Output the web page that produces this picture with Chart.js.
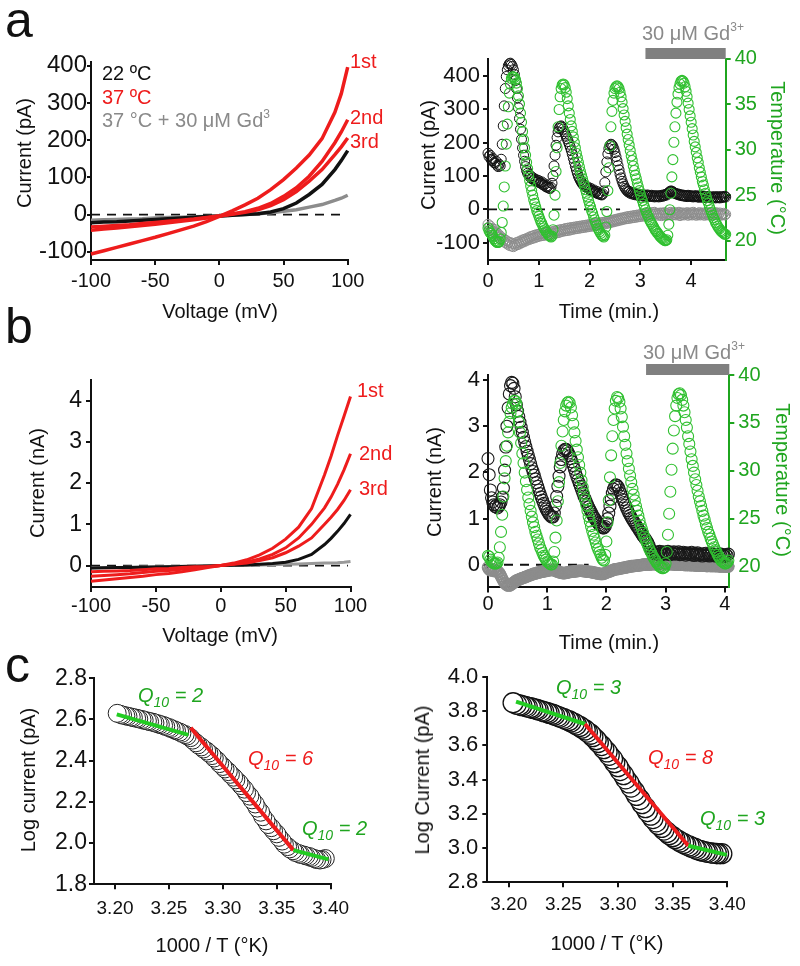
<!DOCTYPE html>
<html><head><meta charset="utf-8">
<script src="https://cdn.jsdelivr.net/npm/chart.js@4.4.1/dist/chart.umd.min.js"></script>
<style>
html,body{margin:0;padding:0;background:#fff;}
#page{position:relative;width:800px;height:966px;overflow:hidden;font-family:"Liberation Sans",Arial,Helvetica,sans-serif;background:#fff;}
canvas{position:absolute;left:0;top:0;}
.t{position:absolute;white-space:nowrap;font-size:20px;line-height:1;color:#111;}
.rl{transform:translate(-50%,-50%) rotate(-90deg);}
.rr{transform:translate(-50%,-50%) rotate(90deg);}
.cc{transform:translate(-50%,-50%);}
.lc{transform:translate(0,-50%);}
.big{font-size:50px;}
sup{font-size:12px;vertical-align:baseline;position:relative;top:-9px;}
.q{font-size:20px;font-style:italic;}
.q sub{font-size:14px;vertical-align:baseline;position:relative;top:5px;}
.red{color:#ee1c1c;} .grn{color:#1fa51f;} .gry{color:#8a8a8a;}
</style></head><body><div id="page">
<canvas id="cA1" width="800" height="966"></canvas>
<canvas id="cA2" width="800" height="966"></canvas>
<canvas id="cB1" width="800" height="966"></canvas>
<canvas id="cB2" width="800" height="966"></canvas>
<canvas id="cC1" width="800" height="966"></canvas>
<canvas id="cC2" width="800" height="966"></canvas>

<div class="t big" style="left:5px;top:-5px;">a</div>
<div class="t big" style="left:5px;top:301px;">b</div>
<div class="t big" style="left:5px;top:640px;">c</div>

<!-- panel a left -->
<div class="t rl" style="left:24px;top:153px;">Current (pA)</div>
<div class="t cc" style="left:220px;top:311px;">Voltage (mV)</div>
<div class="t lc" style="left:102px;top:73px;">22 ºC</div>
<div class="t lc red" style="left:102px;top:97px;">37 ºC</div>
<div class="t lc gry" style="left:102px;top:120px;">37 °C + 30 μM Gd<sup>3</sup></div>
<div class="t lc red" style="left:350px;top:61px;">1st</div>
<div class="t lc red" style="left:350px;top:117px;">2nd</div>
<div class="t lc red" style="left:350px;top:141px;">3rd</div>

<!-- panel a right -->
<div class="t rl" style="left:428px;top:155px;">Current (pA)</div>
<div class="t rr grn" style="left:778px;top:158px;">Temperature (°C)</div>
<div class="t cc" style="left:609px;top:311px;">Time (min.)</div>
<div class="t lc gry" style="left:642px;top:33px;">30 μM Gd<sup>3+</sup></div>

<!-- panel b left -->
<div class="t rl" style="left:37px;top:483px;">Current (nA)</div>
<div class="t cc" style="left:220px;top:635px;">Voltage (mV)</div>
<div class="t lc red" style="left:357px;top:390px;">1st</div>
<div class="t lc red" style="left:359px;top:453px;">2nd</div>
<div class="t lc red" style="left:359px;top:488px;">3rd</div>

<!-- panel b right -->
<div class="t rl" style="left:434px;top:482px;">Current (nA)</div>
<div class="t rr grn" style="left:783px;top:480px;">Temperature (°C)</div>
<div class="t cc" style="left:609px;top:642px;">Time (min.)</div>
<div class="t lc gry" style="left:643px;top:352px;">30 μM Gd<sup>3+</sup></div>

<!-- panel c -->
<div class="t rl" style="left:28px;top:780px;">Log current (pA)</div>
<div class="t cc" style="left:212px;top:945px;">1000 / T (°K)</div>
<div class="t rl" style="left:422px;top:780px;">Log Current (pA)</div>
<div class="t cc" style="left:607px;top:943px;">1000 / T (°K)</div>
<div class="t lc q grn" style="left:138px;top:695px;">Q<sub>10</sub> = 2</div>
<div class="t lc q red" style="left:248px;top:758px;">Q<sub>10</sub> = 6</div>
<div class="t lc q grn" style="left:302px;top:828px;">Q<sub>10</sub> = 2</div>
<div class="t lc q grn" style="left:556px;top:687px;">Q<sub>10</sub> = 3</div>
<div class="t lc q red" style="left:648px;top:757px;">Q<sub>10</sub> = 8</div>
<div class="t lc q grn" style="left:700px;top:818px;">Q<sub>10</sub> = 3</div>
</div>
<script>
// ---------------- DATA ----------------
// Panel a, left: I-V curves (pA)
const aIvVoltage = [-100,-90,-80,-70,-60,-50,-40,-30,-20,-10,0,10,20,30,40,50,60,70,80,90,95,100];
const aIv1st = [-106,-97,-88,-79,-70,-61,-51,-41,-31,-19,-5,10,26,44,67,94,125,160,204,275,325,396];
const aIv2nd = [-33,-31,-29,-27,-24,-21,-18,-15,-12,-8,-4,2,8,17,30,49,72,103,143,193,222,255];
const aIv3rd = [-42,-39,-36,-33,-29,-26,-22,-18,-14,-9,-4,1,6,13,24,40,62,90,121,161,182,206];
const aIv22C = [-22,-20,-19,-17,-15,-13,-11,-9,-7,-5,-4,-2,0,2,7,16,31,54,81,121,145,172];
const aIvGd  = [-15,-14,-13,-12,-11,-9,-8,-7,-6,-5,-4,-2,0,2,5,9,13,20,27,38,44,52];

// Panel b, left: I-V curves (nA)
const bIvVoltage = [-100,-90,-80,-70,-60,-50,-40,-30,-20,-10,0,10,20,30,40,50,60,70,80,85,90,95,100];
const bIv1st = [-0.38,-0.35,-0.32,-0.29,-0.26,-0.22,-0.19,-0.15,-0.10,-0.05,0,0.06,0.14,0.26,0.42,0.64,0.93,1.38,2.2,2.65,3.15,3.62,4.1];
const bIv2nd = [-0.26,-0.24,-0.22,-0.20,-0.17,-0.14,-0.12,-0.09,-0.06,-0.03,0,0.04,0.09,0.16,0.27,0.43,0.67,1.0,1.4,1.66,1.97,2.32,2.71];
const bIv3rd = [-0.15,-0.14,-0.13,-0.12,-0.10,-0.08,-0.07,-0.05,-0.03,-0.02,0,0.03,0.06,0.12,0.19,0.31,0.47,0.67,1.0,1.17,1.36,1.58,1.84];
const bIv22C = [-0.06,-0.055,-0.05,-0.045,-0.04,-0.035,-0.03,-0.02,-0.015,-0.01,0,0.005,0.015,0.03,0.05,0.08,0.15,0.27,0.51,0.66,0.83,1.02,1.24];
const bIvGd  = [-0.06,-0.054,-0.048,-0.042,-0.036,-0.03,-0.024,-0.018,-0.012,-0.006,0,0.005,0.01,0.015,0.02,0.03,0.04,0.05,0.06,0.065,0.07,0.08,0.1];

// Panel a, right: time course, sampled every aTimeStep minutes
const aTimeStep = 0.02;
const aCurrent = [
168,158,162,150,146,152,140,138,144,132,
128,135,130,150,195,250,310,362,398,418,
430,436,438,434,428,418,404,386,362,334,
304,272,240,210,184,162,144,128,116,108,
103,98,100,92,95,88,91,85,88,82,
86,80,78,82,74,72,76,68,66,70,
64,62,66,78,100,130,162,192,215,232,
242,248,250,246,240,233,226,219,211,203,
195,186,176,165,153,141,129,118,108,99,
92,86,81,76,73,70,68,65,67,62,
60,63,57,55,58,52,50,54,47,46,
49,44,43,46,55,80,112,142,166,182,
191,195,193,188,180,170,158,145,131,118,
105,94,84,76,69,63,59,55,52,54,
48,50,46,49,44,47,43,46,42,45,
41,44,40,43,39,42,40,43,38,41,
39,42,38,41,37,40,38,41,37,40,
38,42,39,43,41,45,43,47,50,53,
55,54,52,50,48,47,45,46,43,44,
41,43,40,42,39,41,38,42,39,41,
38,40,37,40,38,41,37,39,36,40,
37,39,36,38,35,38,36,39,35,37,
34,37,35,38,34,37,35,38,34,37,
35,38,36,39,37];
const aCurrentGd = [
-45,-55,-50,-62,-58,-66,-60,-72,-68,-78,
-74,-84,-80,-90,-86,-95,-90,-100,-94,-104,
-98,-108,-100,-110,-102,-112,-104,-108,-100,-106,
-98,-104,-95,-100,-92,-98,-90,-95,-88,-92,
-85,-90,-82,-88,-80,-86,-78,-84,-76,-82,
-75,-80,-73,-79,-72,-78,-71,-77,-70,-76,
-69,-75,-68,-74,-67,-72,-65,-71,-64,-70,
-62,-68,-61,-66,-60,-65,-58,-64,-57,-63,
-56,-62,-55,-60,-54,-59,-53,-58,-52,-57,
-51,-56,-50,-55,-49,-54,-48,-53,-47,-52,
-46,-51,-45,-50,-44,-49,-43,-48,-42,-47,
-41,-46,-40,-45,-39,-44,-38,-42,-36,-41,
-35,-39,-33,-38,-32,-36,-30,-35,-29,-33,
-27,-32,-26,-30,-25,-29,-23,-28,-22,-27,
-21,-26,-20,-25,-19,-24,-18,-23,-17,-22,
-16,-21,-15,-20,-14,-19,-13,-18,-12,-17,
-11,-16,-10,-15,-9,-14,-13,-18,-12,-17,
-11,-19,-12,-16,-10,-18,-13,-17,-11,-15,
-9,-18,-12,-16,-10,-17,-13,-15,-9,-19,
-12,-16,-11,-17,-13,-14,-10,-18,-12,-16,
-11,-17,-9,-15,-12,-18,-13,-16,-10,-17,
-12,-15,-11,-18,-13,-16,-10,-17,-12,-14,
-11,-18,-13,-16,-10,-17,-12,-15,-11,-18,
-14,-16,-12,-17,-15];
const aTemp = [
21.4,21.1,20.9,20.8,20.6,20.4,20.2,20.0,19.9,19.8,
19.8,19.9,20.2,20.9,22.0,23.8,25.9,28.2,30.6,32.8,
34.7,36.2,37.2,37.8,38.0,38.0,37.9,37.7,37.3,36.7,
35.9,35.0,34.0,33.0,32.0,31.1,30.2,29.4,28.6,27.9,
27.2,26.6,26.0,25.5,25.0,24.5,24.1,23.7,23.3,23.0,
22.7,22.4,22.1,21.9,21.6,21.4,21.2,21.0,20.9,20.7,
20.6,20.5,20.4,20.5,21.2,22.8,25.0,27.6,30.2,32.5,
34.4,35.8,36.7,37.1,37.2,37.1,36.8,36.3,35.6,34.8,
34.0,33.3,32.6,32.0,31.4,30.8,30.2,29.6,29.1,28.6,
28.1,27.6,27.2,26.8,26.4,26.0,25.6,25.2,24.8,24.4,
24.0,23.7,23.3,23.0,22.6,22.3,22.0,21.7,21.4,21.2,
21.0,20.8,20.6,20.5,20.4,20.6,21.5,23.2,25.5,28.0,
30.4,32.5,34.2,35.4,36.2,36.7,36.9,37.0,36.9,36.7,
36.3,35.8,35.2,34.5,33.8,33.1,32.4,31.7,31.1,30.5,
29.9,29.3,28.8,28.2,27.7,27.2,26.8,26.3,25.9,25.5,
25.1,24.7,24.4,24.0,23.7,23.4,23.1,22.8,22.6,22.3,
22.1,21.9,21.7,21.5,21.3,21.1,21.0,20.8,20.7,20.5,
20.4,20.3,20.2,20.1,20.0,20.0,20.1,20.6,21.8,23.4,
25.2,27.0,28.9,30.8,32.5,34.0,35.2,36.1,36.8,37.2,
37.5,37.6,37.5,37.3,36.9,36.4,35.8,35.1,34.4,33.7,
33.0,32.3,31.6,30.9,30.3,29.7,29.1,28.6,28.0,27.5,
27.0,26.5,26.1,25.6,25.2,24.8,24.4,24.1,23.7,23.4,
23.1,22.8,22.5,22.3,22.0,21.8,21.6,21.4,21.3,21.1,
21.0,20.9,20.8,20.7,20.7];
const aZeroLineT = [0, 2.6];
const aGdBarT = [3.1, 4.68];

// Panel b, right
const bTimeStep = 0.02;
const bCurrent = [
2.30,1.95,1.62,1.45,1.36,1.30,1.26,1.29,1.23,1.27,
1.30,1.36,1.46,1.66,2.05,2.55,3.00,3.40,3.70,3.88,
3.95,3.93,3.82,3.64,3.47,3.33,3.21,3.09,2.98,2.87,
2.76,2.66,2.56,2.46,2.37,2.28,2.19,2.10,2.02,1.94,
1.86,1.78,1.70,1.62,1.54,1.47,1.40,1.33,1.27,1.21,
1.16,1.12,1.08,1.05,1.03,1.04,1.12,1.28,1.48,1.70,
1.92,2.12,2.28,2.40,2.47,2.50,2.50,2.47,2.42,2.36,
2.30,2.23,2.15,2.07,1.99,1.91,1.84,1.77,1.70,1.63,
1.56,1.49,1.43,1.37,1.31,1.25,1.20,1.15,1.10,1.05,
1.01,0.97,0.93,0.90,0.87,0.84,0.82,0.80,0.80,0.83,
0.90,1.00,1.12,1.27,1.42,1.55,1.64,1.70,1.73,1.72,
1.68,1.62,1.55,1.48,1.41,1.35,1.29,1.23,1.17,1.12,
1.07,1.02,0.98,0.94,0.90,0.86,0.82,0.78,0.74,0.70,
0.66,0.62,0.59,0.56,0.52,0.48,0.42,0.35,0.29,0.26,
0.25,0.28,0.23,0.27,0.24,0.29,0.25,0.22,0.28,0.24,
0.27,0.23,0.29,0.25,0.22,0.27,0.24,0.28,0.23,0.26,
0.24,0.28,0.22,0.26,0.23,0.27,0.25,0.21,0.26,0.23,
0.25,0.22,0.27,0.23,0.20,0.25,0.22,0.26,0.21,0.24,
0.22,0.19,0.24,0.21,0.25,0.20,0.23,0.19,0.22,0.24,
0.20,0.23,0.19,0.22,0.18,0.21,0.24,0.19,0.22,0.20,
0.18,0.22,0.20,0.23];
const bCurrentGd = [
-0.06,-0.10,-0.12,-0.10,-0.13,-0.11,-0.14,-0.12,-0.15,-0.16,
-0.20,-0.25,-0.30,-0.35,-0.39,-0.42,-0.44,-0.45,-0.45,-0.44,
-0.42,-0.40,-0.38,-0.36,-0.34,-0.33,-0.32,-0.31,-0.30,-0.29,
-0.28,-0.27,-0.26,-0.25,-0.24,-0.23,-0.22,-0.21,-0.20,-0.19,
-0.19,-0.18,-0.17,-0.17,-0.16,-0.15,-0.15,-0.14,-0.14,-0.13,
-0.13,-0.12,-0.12,-0.11,-0.11,-0.11,-0.12,-0.13,-0.14,-0.15,
-0.16,-0.17,-0.17,-0.18,-0.18,-0.18,-0.17,-0.17,-0.16,-0.16,
-0.15,-0.15,-0.15,-0.14,-0.14,-0.14,-0.13,-0.13,-0.13,-0.13,
-0.13,-0.14,-0.14,-0.14,-0.15,-0.15,-0.15,-0.16,-0.16,-0.17,
-0.17,-0.18,-0.18,-0.19,-0.19,-0.20,-0.20,-0.20,-0.19,-0.18,
-0.17,-0.16,-0.15,-0.14,-0.13,-0.12,-0.11,-0.10,-0.10,-0.09,
-0.09,-0.08,-0.08,-0.07,-0.07,-0.06,-0.06,-0.05,-0.05,-0.04,
-0.04,-0.03,-0.03,-0.03,-0.02,-0.02,-0.02,-0.01,-0.01,-0.01,
0.00,0.00,0.01,0.00,0.01,0.01,0.00,0.01,0.02,0.01,
0.01,0.02,0.01,0.02,0.02,0.01,0.02,0.02,0.01,0.02,
0.02,0.01,0.02,0.01,0.01,0.02,0.01,0.01,0.00,0.01,
0.01,0.00,0.01,0.00,0.00,0.01,0.00,-0.01,0.00,0.00,
-0.01,0.00,-0.01,-0.01,0.00,-0.01,-0.02,-0.01,-0.01,-0.02,
-0.01,-0.02,-0.02,-0.01,-0.02,-0.03,-0.02,-0.02,-0.03,-0.02,
-0.03,-0.02,-0.03,-0.03,-0.02,-0.03,-0.04,-0.03,-0.03,-0.04,
-0.03,-0.04,-0.03,-0.04];
const bTemp = [
21.1,21.0,20.7,20.5,20.4,20.3,20.3,20.3,20.4,20.9,
22.0,23.6,25.4,27.3,29.2,31.0,32.6,34.0,35.1,36.0,
36.6,37.0,37.3,37.3,37.0,36.2,35.1,34.0,32.9,31.8,
30.8,29.8,28.9,28.0,27.2,26.5,25.8,25.2,24.6,24.1,
23.6,23.2,22.8,22.4,22.0,21.7,21.4,21.1,20.9,20.7,
20.5,20.4,20.3,20.2,20.2,20.5,21.5,23.0,24.8,26.8,
28.8,30.8,32.6,34.1,35.3,36.2,36.8,37.1,37.2,37.1,
36.6,35.8,34.9,34.0,33.1,32.2,31.4,30.6,29.8,29.0,
28.3,27.6,27.0,26.4,25.8,25.2,24.7,24.2,23.7,23.3,
22.9,22.5,22.1,21.8,21.5,21.2,20.9,20.7,20.6,21.2,
22.6,24.6,26.9,29.3,31.6,33.6,35.3,36.5,37.3,37.7,
37.6,37.2,36.5,35.6,34.6,33.6,32.7,31.8,31.0,30.2,
29.5,28.8,28.1,27.5,26.9,26.3,25.8,25.3,24.8,24.3,
23.9,23.5,23.1,22.8,22.5,22.2,21.9,21.6,21.4,21.1,
20.9,20.7,20.5,20.3,20.2,20.0,19.9,19.8,19.8,19.9,
20.3,21.5,23.3,25.5,27.8,30.1,32.3,34.2,35.7,36.8,
37.6,38.0,38.1,37.9,37.4,36.8,36.1,35.3,34.5,33.6,
32.8,32.0,31.2,30.5,29.8,29.1,28.5,27.9,27.3,26.8,
26.3,25.8,25.3,24.9,24.4,24.0,23.6,23.3,22.9,22.6,
22.3,22.0,21.7,21.5,21.2,21.0,20.8,20.6,20.5,20.4,
20.3,20.3,20.4,20.6];
const bZeroLineT = [0, 1.7];
const bGdBarT = [2.67, 4.076];

// Panel c: Arrhenius plots (1000/T, log current), ordered from cold to warm
const cLeftInvT = [3.395,3.392,3.390,3.387,3.385,3.382,3.380,3.377,3.375,3.372,3.370,3.367,3.365,3.362,3.360,3.357,3.355,3.352,3.350,3.347,3.345,3.342,3.340,3.337,3.335,3.332,3.330,3.327,3.325,3.322,3.320,3.317,3.315,3.312,3.310,3.307,3.305,3.302,3.300,3.297,3.295,3.292,3.290,3.287,3.285,3.282,3.280,3.277,3.275,3.272,3.270,3.267,3.265,3.262,3.260,3.257,3.255,3.252,3.250,3.247,3.245,3.242,3.240,3.237,3.235,3.232,3.230,3.227,3.225,3.222,3.220,3.217,3.215,3.212,3.210,3.207,3.205,3.202];
const cLeftLogI = [1.925,1.920,1.918,1.920,1.925,1.930,1.935,1.938,1.942,1.945,1.950,1.955,1.963,1.972,1.983,1.995,2.010,2.028,2.045,2.060,2.075,2.090,2.108,2.128,2.150,2.170,2.190,2.210,2.228,2.245,2.262,2.279,2.293,2.307,2.320,2.334,2.347,2.360,2.372,2.386,2.400,2.413,2.425,2.437,2.447,2.457,2.467,2.477,2.487,2.500,2.512,2.520,2.527,2.533,2.539,2.545,2.550,2.556,2.561,2.566,2.571,2.575,2.579,2.583,2.587,2.590,2.593,2.596,2.600,2.603,2.606,2.609,2.612,2.615,2.618,2.621,2.625,2.630];
const cRightInvT = [3.395,3.392,3.390,3.387,3.385,3.382,3.380,3.377,3.375,3.372,3.370,3.367,3.365,3.362,3.360,3.357,3.355,3.352,3.350,3.347,3.345,3.342,3.340,3.337,3.335,3.332,3.330,3.327,3.325,3.322,3.320,3.317,3.315,3.312,3.310,3.307,3.305,3.302,3.300,3.297,3.295,3.292,3.290,3.287,3.285,3.282,3.280,3.277,3.275,3.272,3.270,3.267,3.265,3.262,3.260,3.257,3.255,3.252,3.250,3.247,3.245,3.242,3.240,3.237,3.235,3.232,3.230,3.227,3.225,3.222,3.220,3.217,3.215,3.212,3.210,3.207,3.204];
const cRightLogI = [2.967,2.967,2.968,2.970,2.972,2.975,2.978,2.982,2.986,2.991,2.999,3.005,3.012,3.019,3.027,3.036,3.045,3.055,3.066,3.078,3.091,3.105,3.120,3.136,3.153,3.172,3.192,3.213,3.236,3.259,3.283,3.307,3.331,3.356,3.380,3.404,3.428,3.452,3.475,3.498,3.520,3.541,3.561,3.580,3.598,3.616,3.632,3.650,3.664,3.677,3.689,3.700,3.710,3.719,3.728,3.736,3.743,3.750,3.757,3.763,3.769,3.775,3.781,3.786,3.791,3.796,3.801,3.806,3.810,3.815,3.819,3.823,3.827,3.831,3.835,3.840,3.848];
// Q10 fit segments
const cLeftFitWarmX = [3.2016, 3.268], cLeftFitWarmY = [2.625, 2.525];
const cLeftFitMidX  = [3.2702, 3.3654], cLeftFitMidY = [2.56, 1.966];
const cLeftFitColdX = [3.3654, 3.3979], cLeftFitColdY = [1.966, 1.921];
const cRightFitWarmX = [3.2067, 3.2698], cRightFitWarmY = [3.854, 3.724];
const cRightFitMidX  = [3.2698, 3.3643], cRightFitMidY = [3.724, 3.013];
const cRightFitColdX = [3.3643, 3.3995], cRightFitColdY = [3.013, 2.960];

// Tick values
const ivVoltageTicks = [-100,-50,0,50,100];
const aIvCurrentTicks = [-100,0,100,200,300,400];
const bIvCurrentTicks = [0,1,2,3,4];
const aTimeTicks = [0,1,2,3,4];
const bTimeTicks = [0,1,2,3,4];
const tempTicks = [20,25,30,35,40];
const aTimeCurrentTicks = [-100,0,100,200,300,400];
const bTimeCurrentTicks = [0,1,2,3,4];
const cInvTTicks = [3.20,3.25,3.30,3.35,3.40];
const cLeftLogTicks = [1.8,2.0,2.2,2.4,2.6,2.8];
const cRightLogTicks = [2.8,3.0,3.2,3.4,3.6,3.8,4.0];

// ---------------- DRAWING ----------------
const FONT = '"Liberation Sans", Arial, Helvetica, sans-serif';
const RED = '#ee1c1c', BLACK = '#111', GRAY = '#8c8c8c', GREEN_PT = '#30c030', GREEN_AX = '#1fa51f', GREEN_FIT = '#22cc22';

const pts = (xs, ys) => ys.map((y, i) => ({x: xs[i], y}));
const timePts = (step, ys) => ys.map((y, i) => ({x: Math.round(i * step * 1000) / 1000, y}));
const flat = (xs, y) => xs.map(x => ({x, y}));

function line(data, color, width, extra) {
  return Object.assign({data, showLine: true, borderColor: color, backgroundColor: color,
    borderWidth: width, pointRadius: 0, pointHoverRadius: 0, fill: false, tension: 0, clip: false}, extra || {});
}
function circles(data, color, r, bw, fill, extra) {
  return Object.assign({data, showLine: false, pointRadius: r, pointHoverRadius: r,
    pointBorderWidth: bw, borderWidth: bw, pointBorderColor: color, borderColor: color,
    pointBackgroundColor: fill || 'rgba(0,0,0,0)', backgroundColor: fill || 'rgba(0,0,0,0)', clip: false}, extra || {});
}
function scale(o) {
  const color = o.color || BLACK;
  return {
    type: 'linear', position: o.pos, min: o.min, max: o.max,
    afterBuildTicks: s => { s.ticks = o.ticks.map(v => ({value: v})); },
    afterFit: s => { if (o.pos === 'bottom') s.height = o.size; else s.width = o.size; },
    grid: {display: true, drawOnChartArea: false, drawTicks: true, tickLength: o.tl == null ? 5 : o.tl,
      tickWidth: 2, lineWidth: 2, color},
    border: {display: true, color, width: 2},
    ticks: {color, font: {family: FONT, size: o.fs || 20}, padding: o.pad == null ? 3 : o.pad,
      autoSkip: false, maxRotation: 0, minRotation: 0,
      callback: v => (o.fmt ? o.fmt(v) : String(v))}
  };
}
function mkChart(id, area, WL, WR, HB, scales, datasets) {
  // later datasets in the list are painted on top
  datasets.forEach((d, i) => { d.order = datasets.length - i; });
  return new Chart(document.getElementById(id), {
    type: 'scatter',
    data: {datasets},
    options: {
      responsive: false, animation: false, devicePixelRatio: 1, events: [],
      layout: {padding: {left: area.l - WL, top: area.t, right: 800 - area.r - WR, bottom: 966 - area.b - HB}},
      plugins: {legend: {display: false}, tooltip: {enabled: false}},
      scales
    }
  });
}

// Panel a, left
mkChart('cA1', {l: 91, t: 62, r: 347.7, b: 260}, 60, 0, 40, {
  x: scale({pos: 'bottom', min: -100, max: 100, ticks: ivVoltageTicks, size: 40, pad: 4}),
  y: scale({pos: 'left', min: -122, max: 410, ticks: aIvCurrentTicks, size: 60, tl: 4, pad: 0, fs: 24})
}, [
  line(flat([-100, 98], 0), BLACK, 1.8, {borderDash: [9, 7]}),
  line(pts(aIvVoltage, aIvGd), GRAY, 3.5),
  line(pts(aIvVoltage, aIv22C), BLACK, 3.5),
  line(pts(aIvVoltage, aIv3rd), RED, 3.5),
  line(pts(aIvVoltage, aIv2nd), RED, 3.5),
  line(pts(aIvVoltage, aIv1st), RED, 3.5)
]);

// Panel a, right
mkChart('cA2', {l: 488, t: 58.5, r: 725.7, b: 260}, 60, 50, 40, {
  x: scale({pos: 'bottom', min: 0, max: 4.68, ticks: aTimeTicks, size: 40, pad: 4}),
  y: scale({pos: 'left', min: -152, max: 452, ticks: aTimeCurrentTicks, size: 60, pad: 3, fs: 22}),
  y2: scale({pos: 'right', min: 17.88, max: 40, ticks: tempTicks, size: 50, pad: 4, color: GREEN_AX, fs: 20})
}, [
  line(flat(aZeroLineT, 0), BLACK, 1.8, {borderDash: [9, 7], yAxisID: 'y'}),
  circles(timePts(aTimeStep, aCurrentGd), GRAY, 5, 1, null, {yAxisID: 'y'}),
  circles(timePts(aTimeStep, aCurrent), BLACK, 5, 1, null, {yAxisID: 'y'}),
  circles(timePts(aTimeStep, aTemp), GREEN_PT, 5, 1.1, null, {yAxisID: 'y2'}),
  line(flat(aGdBarT, 40.55), '#808080', 11, {yAxisID: 'y2', borderCapStyle: 'butt'})
]);

// Panel b, left
mkChart('cB1', {l: 91, t: 380, r: 350.5, b: 587}, 60, 0, 40, {
  x: scale({pos: 'bottom', min: -100, max: 100, ticks: ivVoltageTicks, size: 40, pad: 2}),
  y: scale({pos: 'left', min: -0.52, max: 4.5, ticks: bIvCurrentTicks, size: 60, pad: 4, fs: 23})
}, [
  line(flat([-100, 98], 0), BLACK, 1.8, {borderDash: [9, 7]}),
  line(pts(bIvVoltage, bIvGd), '#999999', 3),
  line(pts(bIvVoltage, bIv22C), BLACK, 3),
  line(pts(bIvVoltage, bIv3rd), RED, 3),
  line(pts(bIvVoltage, bIv2nd), RED, 3),
  line(pts(bIvVoltage, bIv1st), RED, 3)
]);

// Panel b, right
mkChart('cB2', {l: 488, t: 375, r: 729.3, b: 587.4}, 60, 50, 40, {
  x: scale({pos: 'bottom', min: 0, max: 4.076, ticks: bTimeTicks, size: 40, pad: 0}),
  y: scale({pos: 'left', min: -0.49, max: 4.11, ticks: bTimeCurrentTicks, size: 60, pad: 3, fs: 22}),
  y2: scale({pos: 'right', min: 17.8, max: 40, ticks: tempTicks, size: 50, pad: 4, color: GREEN_AX, fs: 20})
}, [
  line(flat(bZeroLineT, 0), BLACK, 1.8, {borderDash: [9, 7], yAxisID: 'y'}),
  circles(timePts(bTimeStep, bCurrentGd), GRAY, 5.5, 1.6, null, {yAxisID: 'y'}),
  circles(timePts(bTimeStep, bCurrent), '#1a1a1a', 6, 1.1, null, {yAxisID: 'y'}),
  circles(timePts(bTimeStep, bTemp), GREEN_PT, 5.5, 1.1, null, {yAxisID: 'y2'}),
  line(flat(bGdBarT, 40.58), '#808080', 11, {yAxisID: 'y2', borderCapStyle: 'butt'})
]);

// Panel c, left
mkChart('cC1', {l: 94, t: 678.3, r: 330.7, b: 884.3}, 60, 0, 40, {
  x: scale({pos: 'bottom', min: 3.1805, max: 3.40, ticks: cInvTTicks, size: 40, pad: 8, fs: 19, fmt: v => v.toFixed(2)}),
  y: scale({pos: 'left', min: 1.8, max: 2.8, ticks: cLeftLogTicks, size: 60, pad: 2, fs: 23, fmt: v => v.toFixed(1)})
}, [
  circles(pts(cLeftInvT, cLeftLogI), '#222', 9, 1, '#ffffff'),
  line(pts(cLeftFitWarmX, cLeftFitWarmY), GREEN_FIT, 4),
  line(pts(cLeftFitMidX, cLeftFitMidY), RED, 4),
  line(pts(cLeftFitColdX, cLeftFitColdY), GREEN_FIT, 4)
]);

// Panel c, right
mkChart('cC2', {l: 487.3, t: 676.7, r: 727.3, b: 882.3}, 60, 0, 40, {
  x: scale({pos: 'bottom', min: 3.1804, max: 3.40, ticks: cInvTTicks, size: 40, pad: 6, fs: 19, fmt: v => v.toFixed(2)}),
  y: scale({pos: 'left', min: 2.8, max: 4.0, ticks: cRightLogTicks, size: 60, pad: 4, fs: 22, fmt: v => v.toFixed(1)})
}, [
  circles(pts(cRightInvT, cRightLogI), '#111', 10, 1.3, '#ffffff'),
  line(pts(cRightFitWarmX, cRightFitWarmY), GREEN_FIT, 4),
  line(pts(cRightFitMidX, cRightFitMidY), RED, 4),
  line(pts(cRightFitColdX, cRightFitColdY), GREEN_FIT, 4)
]);
</script>
</body></html>
